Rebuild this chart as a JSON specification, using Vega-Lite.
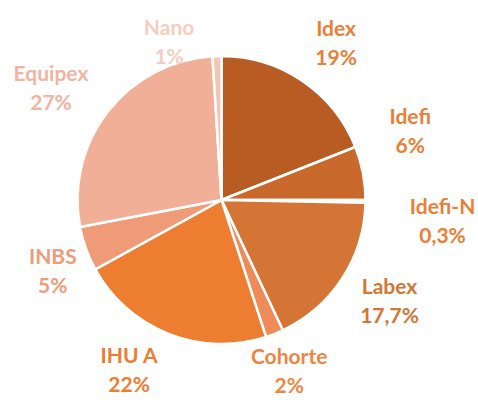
{
  "$schema": "https://vega.github.io/schema/vega-lite/v6.json",
  "width": 443,
  "height": 400,
  "autosize": "none",
  "padding": {"left": 0, "top": 0, "right": 35, "bottom": 3},
  "background": "white",
  "view": {"stroke": null},
  "data": {
    "values": [
      {"category": "Idex", "value": 19, "label": "Idex\n19%"},
      {"category": "Idefi", "value": 6, "label": "Idefi\n6%"},
      {"category": "Idefi-N", "value": 0.3, "label": "Idefi-N\n0,3%"},
      {"category": "Labex", "value": 17.7, "label": "Labex\n17,7%"},
      {"category": "Cohorte", "value": 2, "label": "Cohorte\n2%"},
      {"category": "IHU A", "value": 22, "label": "IHU A\n22%"},
      {"category": "INBS", "value": 5, "label": "INBS\n5%"},
      {"category": "Equipex", "value": 27, "label": "Equipex\n27%"},
      {"category": "Nano", "value": 1, "label": "Nano\n1%"}
    ]
  },
  "transform": [{"window": [{"op": "row_number", "as": "i"}]}],
  "layer": [
    {
      "mark": {"type": "arc", "outerRadius": 144, "stroke": "white", "strokeWidth": 2.5},
      "encoding": {
        "theta": {"field": "value", "type": "quantitative", "stack": true},
        "order": {"field": "i", "type": "quantitative"},
        "color": {
          "field": "category",
          "type": "nominal",
          "legend": null,
          "scale": {
            "domain": ["Idex", "Idefi", "Idefi-N", "Labex", "Cohorte", "IHU A", "INBS", "Equipex", "Nano"],
            "range": ["#B85C24", "#C9682B", "#CD6E2F", "#D57535", "#EF8B58", "#ED7D31", "#F09B78", "#F1AF98", "#F4C4B4"]
          }
        }
      }
    },
    {
      "mark": {"type": "text", "font": "Lato", "fontWeight": "bold", "fontSize": 21, "lineBreak": "\n", "lineHeight": 29, "align": "center", "baseline": "middle", "dy": -12.5},
      "encoding": {
        "theta": {
          "field": "value",
          "type": "quantitative",
          "stack": true,
          "scale": {
            "domain": [0, 9.5, 22, 25.15, 34.15, 44, 56, 69.5, 85.5, 99.5, 100],
            "range": [0, 0.6283, 1.22, 1.6616, 2.1118, 2.7629, 3.6408, 4.3145, 5.2936, 5.9638, 6.2832]
          }
        },
        "radius": {
          "field": "value",
          "type": "quantitative",
          "scale": {
            "type": "linear",
            "zero": false,
            "domain": [0.3, 1, 2, 5, 6, 17.7, 19, 22, 27],
            "range": [222, 167, 183, 183, 201, 196, 195, 193, 204]
          }
        },
        "order": {"field": "i", "type": "quantitative"},
        "text": {"field": "label", "type": "nominal"},
        "color": {
          "field": "category",
          "type": "nominal",
          "legend": null,
          "scale": {
            "domain": ["Idex", "Idefi", "Idefi-N", "Labex", "Cohorte", "IHU A", "INBS", "Equipex", "Nano"],
            "range": ["#EC7E35", "#EC7E35", "#EC7E35", "#D47534", "#EE8440", "#ED7D31", "#F09B78", "#F2B3A0", "#F6CDBF"]
          }
        }
      }
    }
  ],
  "resolve": {"scale": {"theta": "independent", "color": "independent"}}
}
